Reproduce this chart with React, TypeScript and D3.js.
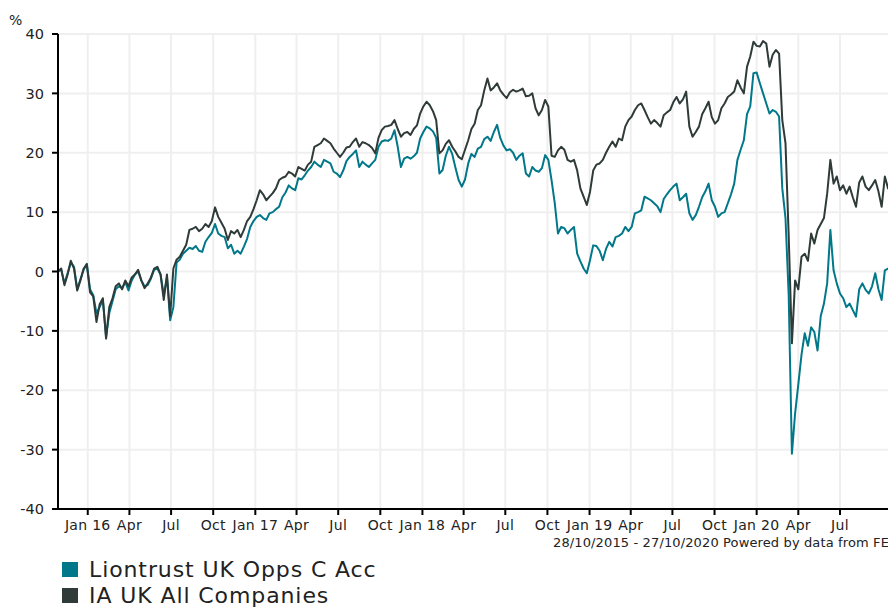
import React from 'react';
import * as d3 from 'd3';

// weekly readings, first point 28/10/2015
const START = new Date(2015, 9, 28);
const END = new Date(2020, 9, 27);
const STEP_DAYS = 7;

const fundName = 'Liontrust UK Opps C Acc';
const sectorName = 'IA UK All Companies';

const fundValues = [
  0, 0.3, -2.0, -0.3, 1.5, 0.8, -3.0, -1.3, 0.3, 1.3,
  -3.0, -4.0, -7.0, -6.0, -4.8, -11.0, -7.0, -5.0, -3.0, -2.5,
  -2.8, -1.8, -3.2, -1.5, -0.5, 0.0, -1.5, -2.5, -2.3, -1.2,
  0.3, 0.5, -0.5, -4.0, -1.0, -8.2, -6.0, 1.5, 2.0, 3.0,
  3.5, 4.0, 3.8, 4.3, 3.5, 3.3, 5.0, 5.8, 6.5, 8.0,
  6.4, 6.0, 5.8, 3.9, 4.5, 3.0, 3.5, 3.0, 4.2, 5.5,
  7.5, 8.5, 9.2, 9.5, 9.0, 8.7, 9.8, 10.0, 10.5, 10.9,
  12.5, 13.3, 14.5, 14.0, 13.7, 15.7, 15.5, 16.2, 17.0, 17.6,
  18.5, 18.0, 17.6, 18.8, 18.5, 18.2, 16.8, 16.5, 15.9, 17.0,
  18.6, 19.3, 19.8, 20.4, 17.6, 18.5, 18.0, 17.6, 18.2, 18.8,
  21.0, 21.9, 22.1, 22.0, 22.4, 23.8, 21.0, 17.6, 19.0, 19.3,
  19.0, 19.4, 20.0, 22.4, 23.5, 24.4, 24.1, 23.6, 22.5, 16.5,
  17.1, 19.5, 21.0, 19.8, 17.5, 15.4, 14.3, 15.5, 18.2, 19.8,
  19.3, 20.7, 21.0, 22.3, 22.7, 22.0, 23.5, 24.7, 22.5, 21.2,
  20.4, 20.6, 20.0, 18.8, 19.5, 19.9, 16.5, 16.0, 17.6, 17.0,
  16.8, 17.4, 19.6, 18.8, 15.4, 11.5, 6.4, 7.5, 7.3, 6.4,
  7.0, 7.5, 3.0, 1.7, 0.5, -0.3, 1.9, 4.4, 4.3, 3.5,
  1.9, 3.8, 5.0, 4.2, 5.8, 6.0, 6.4, 7.5, 6.8, 7.5,
  9.8, 10.0, 10.3, 12.6, 12.3, 12.0, 11.5, 11.0, 10.0, 12.2,
  13.0, 13.7, 14.3, 14.8, 12.0, 12.5, 13.1, 9.8, 8.7, 9.5,
  10.9, 12.5, 13.5, 14.8, 12.0, 10.9, 9.2, 9.8, 10.0, 11.5,
  13.0, 14.8, 18.8, 20.5, 22.1, 26.5, 27.8, 33.4, 33.5, 31.7,
  30.0, 28.3, 26.6, 27.2, 26.9, 26.1, 14.0, 9.0, -4.0, -30.7,
  -23.9, -19.0, -14.0, -10.4, -12.5, -9.4, -10.2, -13.3, -7.5, -5.4,
  -2.0, 7.0, 0.2, -2.0, -3.7, -4.5, -6.0, -5.4, -6.5, -7.6,
  -3.0, -2.0, -3.1, -3.7, -2.5, -0.3, -3.0, -4.8, 0.2, 0.5, 0.0,
];

const sectorValues = [
  0, 0.5, -2.3, -0.5, 1.8, 0.5, -3.2, -1.5, 0.5, 1.2,
  -3.5, -4.2, -8.5, -5.5, -4.5, -11.3, -6.0, -4.5, -2.5, -2.0,
  -3.0, -1.5, -2.5, -1.0, -0.5, 0.3, -1.5, -2.8, -2.0, -1.0,
  0.5, 0.8, -0.5, -4.8, -0.5, -7.5, 0.5, 2.0, 2.5, 3.5,
  4.5, 7.0, 7.2, 7.5, 6.8, 7.2, 8.0, 7.5, 8.5, 10.8,
  9.2, 8.2, 7.2, 5.3, 6.8, 6.4, 7.0, 5.8, 7.0, 8.5,
  9.2, 10.5, 12.0, 13.7, 13.0, 12.0, 12.6, 13.2, 14.0, 15.4,
  15.8, 16.0, 16.8, 16.5, 16.0, 17.6, 17.3, 17.0, 18.0, 18.5,
  21.0, 21.3, 21.6, 22.4, 22.0, 21.6, 20.7, 20.0, 19.3, 20.0,
  20.9, 21.0, 21.8, 22.4, 21.0, 21.8, 21.6, 21.3, 20.8, 19.9,
  22.5, 23.8, 24.4, 24.5, 24.7, 25.5, 24.0, 22.7, 23.3, 23.5,
  23.0, 24.0, 24.6, 26.6, 27.8, 28.6, 28.0, 27.0, 25.5, 19.9,
  20.4, 21.5, 22.1, 21.0, 20.2, 19.3, 18.9, 20.5, 22.1, 24.0,
  24.9, 27.2, 28.0, 30.5, 32.5, 30.5, 31.0, 31.7, 30.5, 29.8,
  29.2, 30.2, 30.6, 30.3, 30.5, 30.8, 29.5, 29.6, 30.0, 27.5,
  26.3, 27.2, 28.9, 27.8, 19.5, 19.3, 20.4, 21.0, 20.5, 18.8,
  18.5, 18.8, 17.0, 14.0, 12.6, 11.2, 13.4, 17.0, 18.0, 18.2,
  18.8, 20.0, 21.0, 21.9, 21.0, 22.4, 22.1, 24.4, 25.5, 26.1,
  27.2, 28.0, 28.3, 27.2, 26.0, 24.9, 25.5, 25.0, 24.4, 26.3,
  26.8, 27.2, 28.5, 29.4, 28.3, 29.0, 30.3, 24.4, 22.7, 23.5,
  24.4, 26.5, 27.5, 28.6, 26.0, 24.9, 25.5, 27.5, 28.3, 29.4,
  29.8, 30.3, 32.2, 31.0, 30.0, 34.5, 36.2, 38.7, 38.0, 37.9,
  38.8, 38.4, 34.5, 36.5, 37.3, 36.7, 25.5, 21.6, 6.0, -12.1,
  -1.5, -3.0, 2.5, 3.0, 1.8, 6.4, 4.7, 7.0, 8.0, 9.0,
  13.1, 18.8, 14.8, 16.0, 13.7, 14.5, 13.1, 14.3, 12.5, 10.9,
  15.0, 16.0, 14.3, 13.7, 14.5, 15.4, 13.5, 10.9, 16.0, 14.0, 13.5,
];

const yTicks = [-40, -30, -20, -10, 0, 10, 20, 30, 40];
const xTickLabels = [
  'Jan 16', 'Apr', 'Jul', 'Oct',
  'Jan 17', 'Apr', 'Jul', 'Oct',
  'Jan 18', 'Apr', 'Jul', 'Oct',
  'Jan 19', 'Apr', 'Jul', 'Oct',
  'Jan 20', 'Apr', 'Jul',
];

const W = 888;
const H = 607;
const left = 58;
const top = 34;
const bottom = 509;

const FUND_COLOR = '#00788a';
const SECTOR_COLOR = '#2e3b38';
const FONT = '"DejaVu Sans", Verdana, sans-serif';

export default function App() {
  const x = d3.scaleTime().domain([START, END]).range([left, 894]);
  const y = d3.scaleLinear().domain([-40, 40]).range([bottom, top]);

  const quarters = d3.timeMonth.range(new Date(2016, 0, 1), new Date(2020, 7, 1), 3);

  const toPoints = (vals: number[]) =>
    vals.map((v, i) => ({ date: d3.timeDay.offset(START, i * STEP_DAYS), v }));

  const line = d3
    .line<{ date: Date; v: number }>()
    .x((d) => x(d.date))
    .y((d) => y(d.v));

  return (
    <svg
      width={W}
      height={H}
      style={{ position: 'absolute', left: 0, top: 0, fontFamily: FONT }}
    >
      <rect width={W} height={H} fill="#fff" />
      {/* grid */}
      {yTicks.map((t) => (
        <line key={'gy' + t} x1={left} x2={W} y1={y(t)} y2={y(t)} stroke="#efefef" strokeWidth={2} />
      ))}
      {quarters.map((q, i) => (
        <line key={'gx' + i} x1={x(q)} x2={x(q)} y1={top} y2={bottom} stroke="#efefef" strokeWidth={2} />
      ))}

      {/* series */}
      <path d={line(toPoints(fundValues)) || ''} fill="none" stroke={FUND_COLOR} strokeWidth={2} strokeLinejoin="round" />
      <path d={line(toPoints(sectorValues)) || ''} fill="none" stroke={SECTOR_COLOR} strokeWidth={2} strokeLinejoin="round" />

      {/* y axis */}
      <line x1={left} x2={left} y1={top} y2={bottom + 1} stroke="#000" strokeWidth={2} />
      {yTicks.map((t) => (
        <g key={'yt' + t}>
          <line x1={left - 6} x2={left} y1={y(t)} y2={y(t)} stroke="#000" strokeWidth={2} />
          <text x={44} y={y(t)} dy="0.36em" textAnchor="end" fontSize={14.5} fill="#222">
            {t}
          </text>
        </g>
      ))}
      <text x={9} y={25} fontSize={14} fill="#222">%</text>

      {/* x axis */}
      <line x1={left - 1} x2={W} y1={bottom} y2={bottom} stroke="#000" strokeWidth={2} />
      {quarters.map((q, i) => (
        <g key={'xt' + i}>
          <line x1={x(q)} x2={x(q)} y1={bottom} y2={bottom + 6} stroke="#000" strokeWidth={2} />
          <text x={x(q)} y={530} textAnchor="middle" fontSize={14} letterSpacing={0.3} fill="#222">
            {xTickLabels[i]}
          </text>
        </g>
      ))}
      <text x={553} y={547} fontSize={13} letterSpacing={0.13} fill="#222">
        28/10/2015 - 27/10/2020 Powered by data from FE
      </text>

      {/* legend */}
      <rect x={62} y={562} width={16} height={15} fill={FUND_COLOR} />
      <text x={89} y={577} fontSize={22} letterSpacing={0.9} fill="#222">{fundName}</text>
      <rect x={62} y={588} width={16} height={15} fill={SECTOR_COLOR} />
      <text x={89} y={603} fontSize={22} letterSpacing={0.9} fill="#222">{sectorName}</text>
    </svg>
  );
}
